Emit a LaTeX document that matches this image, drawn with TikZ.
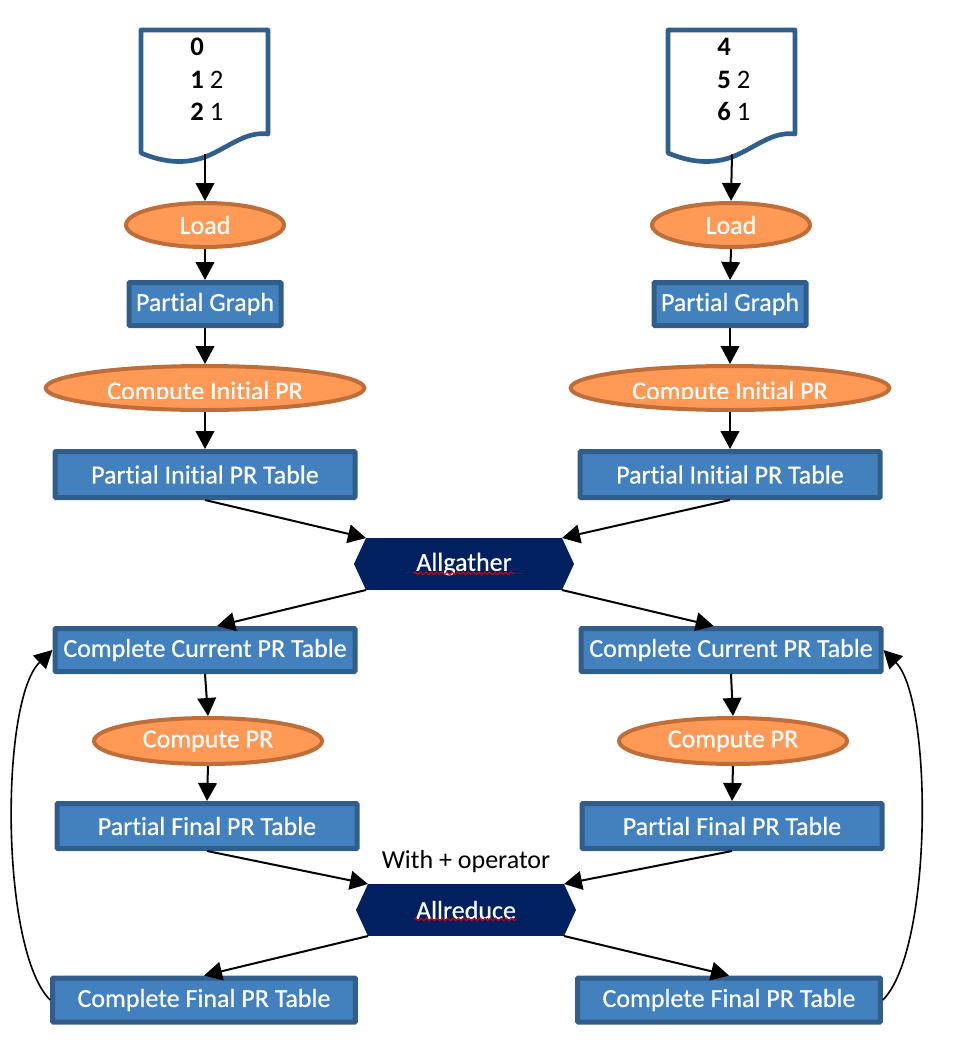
\documentclass[tikz,border=0pt]{standalone}
\usepackage{fontspec}
\setmainfont{Carlito}[Ligatures=NoCommon]
\newfontfamily\lblfont{Carlito}[Ligatures=NoCommon,FakeBold=0.5]
\usetikzlibrary{shapes.geometric,arrows.meta,decorations.pathmorphing,calc}
\definecolor{boxfill}{RGB}{66,128,190}
\definecolor{boxline}{RGB}{49,93,138}
\definecolor{ovfill}{RGB}{255,153,85}
\definecolor{ovline}{RGB}{190,110,58}
\definecolor{navy}{RGB}{0,32,96}
\definecolor{docline}{RGB}{49,95,140}
\definecolor{squig}{RGB}{220,0,0}
\begin{document}
\begin{tikzpicture}[x=0.75pt,y=-0.75pt,
 lbl/.style={font=\lblfont\fontsize{19.5}{23}\selectfont, text=white},
 box/.style={lbl, rectangle, draw=boxline, fill=boxfill, line width=3.75pt, minimum width=225pt, minimum height=33pt, inner sep=0pt, rounded corners=0.6pt},
 oval/.style={lbl, ellipse, draw=ovline, fill=ovfill, line width=3pt, inner sep=0pt, minimum height=33pt},
 hex/.style={lbl, rectangle, fill=navy, minimum width=147pt, minimum height=39pt, inner sep=0pt, outer sep=0pt},
 arr/.style={line width=1.5pt, -{Triangle[length=13.5pt,width=14pt]}},
 doc/.style={draw=docline, line width=3.5pt, fill=white, line join=round},
 doctext/.style={font=\fontsize{20}{24.4}\selectfont, align=left, anchor=north west, inner sep=0pt},
 holder/.style={minimum width=95pt, minimum height=95pt, inner sep=0pt, outer sep=0pt},
 squiggle/.style={draw=squig, line width=0.8pt, decorate, decoration={snake, amplitude=1pt, segment length=4pt}},
]
\useasboundingbox (0,0) rectangle (956,1046);

% documents
\foreach \dx in {0,527} {
  \draw[doc] (141+\dx,153) -- (141+\dx,30) -- (268+\dx,30) -- (268+\dx,134)
    .. controls (245+\dx,131) and (228+\dx,148) .. (205+\dx,157)
    .. controls (185+\dx,164) and (165+\dx,163) .. (141+\dx,153) -- cycle;
}
\node[holder] (d1) at (205,91) {};
\node[holder] (d2) at (732,91) {};
\node[doctext] (t1) at (190,38) {\textbf{0}\\ \textbf{1} 2\\ \textbf{2} 1};
\node[doctext] (t2) at (717,38) {\textbf{4}\\ \textbf{5} 2\\ \textbf{6} 1};

% left column
\node[oval, minimum width=118.5pt] (load1) at (205,225) {Load};
\node[box, minimum width=114pt, minimum height=32.25pt] (pg1) at (205,304) {Partial Graph};
\node[oval, minimum width=239pt] (cipr1) at (205,388) {};
\node[box, minimum height=34.5pt] (pipt1) at (205,474.5) {Partial Initial PR Table};
\node[box, minimum height=32.25pt] (ccpt1) at (205,650) {Complete Current PR Table};
\node[oval, minimum width=171pt, minimum height=34.5pt] (cpr1) at (208,741) {Compute PR};
\node[box, minimum height=33.75pt] (pfpt1) at (207,826) {Partial Final PR Table};
\node[box, minimum width=227pt] (cfpt1) at (204,1000) {Complete Final PR Table};

% right column
\node[oval, minimum width=118.5pt] (load2) at (731,225) {Load};
\node[box, minimum width=114pt, minimum height=32.25pt] (pg2) at (730,304) {Partial Graph};
\node[oval, minimum width=239pt] (cipr2) at (730,388) {};
\node[box, minimum height=34.5pt] (pipt2) at (730,474.5) {Partial Initial PR Table};
\node[box, minimum height=32.25pt] (ccpt2) at (731,650) {Complete Current PR Table};
\node[oval, minimum width=171pt, minimum height=34.5pt] (cpr2) at (733,741) {Compute PR};
\node[box, minimum height=33.75pt] (pfpt2) at (732,826) {Partial Final PR Table};
\node[box, minimum width=227pt] (cfpt2) at (729,1000) {Complete Final PR Table};

% clipped labels of the initial PR ovals
\begin{scope}
  \clip (30,360) rectangle (900,398.5);
  \node[lbl, anchor=base, inner sep=0pt] (ciprt1) at (205,399.5) {Compute Initial PR};
  \node[lbl, anchor=base, inner sep=0pt] (ciprt2) at (730,399.5) {Compute Initial PR};
\end{scope}

% collective operations
\node[hex] (ag) at (464,564) {};
\fill[navy] (ag.north west) -- ([xshift=-9pt]ag.west) -- (ag.south west) -- cycle;
\fill[navy] (ag.north east) -- ([xshift=9pt]ag.east) -- (ag.south east) -- cycle;
\node[lbl] (agt) at (ag) {Allgather};
\draw[squiggle] ([xshift=-38pt,yshift=-7pt]ag.center) -- ([xshift=38pt,yshift=-7pt]ag.center);

\node[hex] (ar) at (466,910) {};
\fill[navy] (ar.north west) -- ([xshift=-9pt]ar.west) -- (ar.south west) -- cycle;
\fill[navy] (ar.north east) -- ([xshift=9pt]ar.east) -- (ar.south east) -- cycle;
\node[lbl] (art) at (ar) {Allreduce};
\draw[squiggle] ([xshift=-39pt,yshift=-7pt]ar.center) -- ([xshift=38pt,yshift=-7pt]ar.center);

\node[font=\fontsize{19.5}{23}\selectfont, inner sep=0pt] (wop) at (466,862) {With + operator};

% connectors
\foreach \s in {1,2} {
  \draw[arr] (d\s.south) -- (load\s.north);
  \draw[arr] (load\s.south) -- (pg\s.north);
  \draw[arr] (pg\s.south) -- (cipr\s.north);
  \draw[arr] (cipr\s.south) -- (pipt\s.north);
  \draw[arr] (ccpt\s.south) -- (cpr\s.north);
  \draw[arr] (cpr\s.south) -- (pfpt\s.north);
}
\draw[arr] (pipt1.south) -- (ag.north west);
\draw[arr] (pipt2.south) -- (ag.north east);
\draw[arr] (ag.south west) -- ([xshift=9pt]ccpt1.north);
\draw[arr] (ag.south east) -- ([xshift=-13pt]ccpt2.north);
\draw[arr] (pfpt1.south) -- (ar.north west);
\draw[arr] (pfpt2.south) -- (ar.north east);
\draw[arr] (ar.south west) -- (cfpt1.north);
\draw[arr] (ar.south east) -- (cfpt2.north);

% loops
\draw[arr, line width=1.2pt] (cfpt1.west) .. controls (0,950) and (0,700) .. (ccpt1.west);
\draw[arr, line width=1.2pt] (cfpt2.east) .. controls (933,950) and (933,700) .. (ccpt2.east);
\end{tikzpicture}
\end{document}
